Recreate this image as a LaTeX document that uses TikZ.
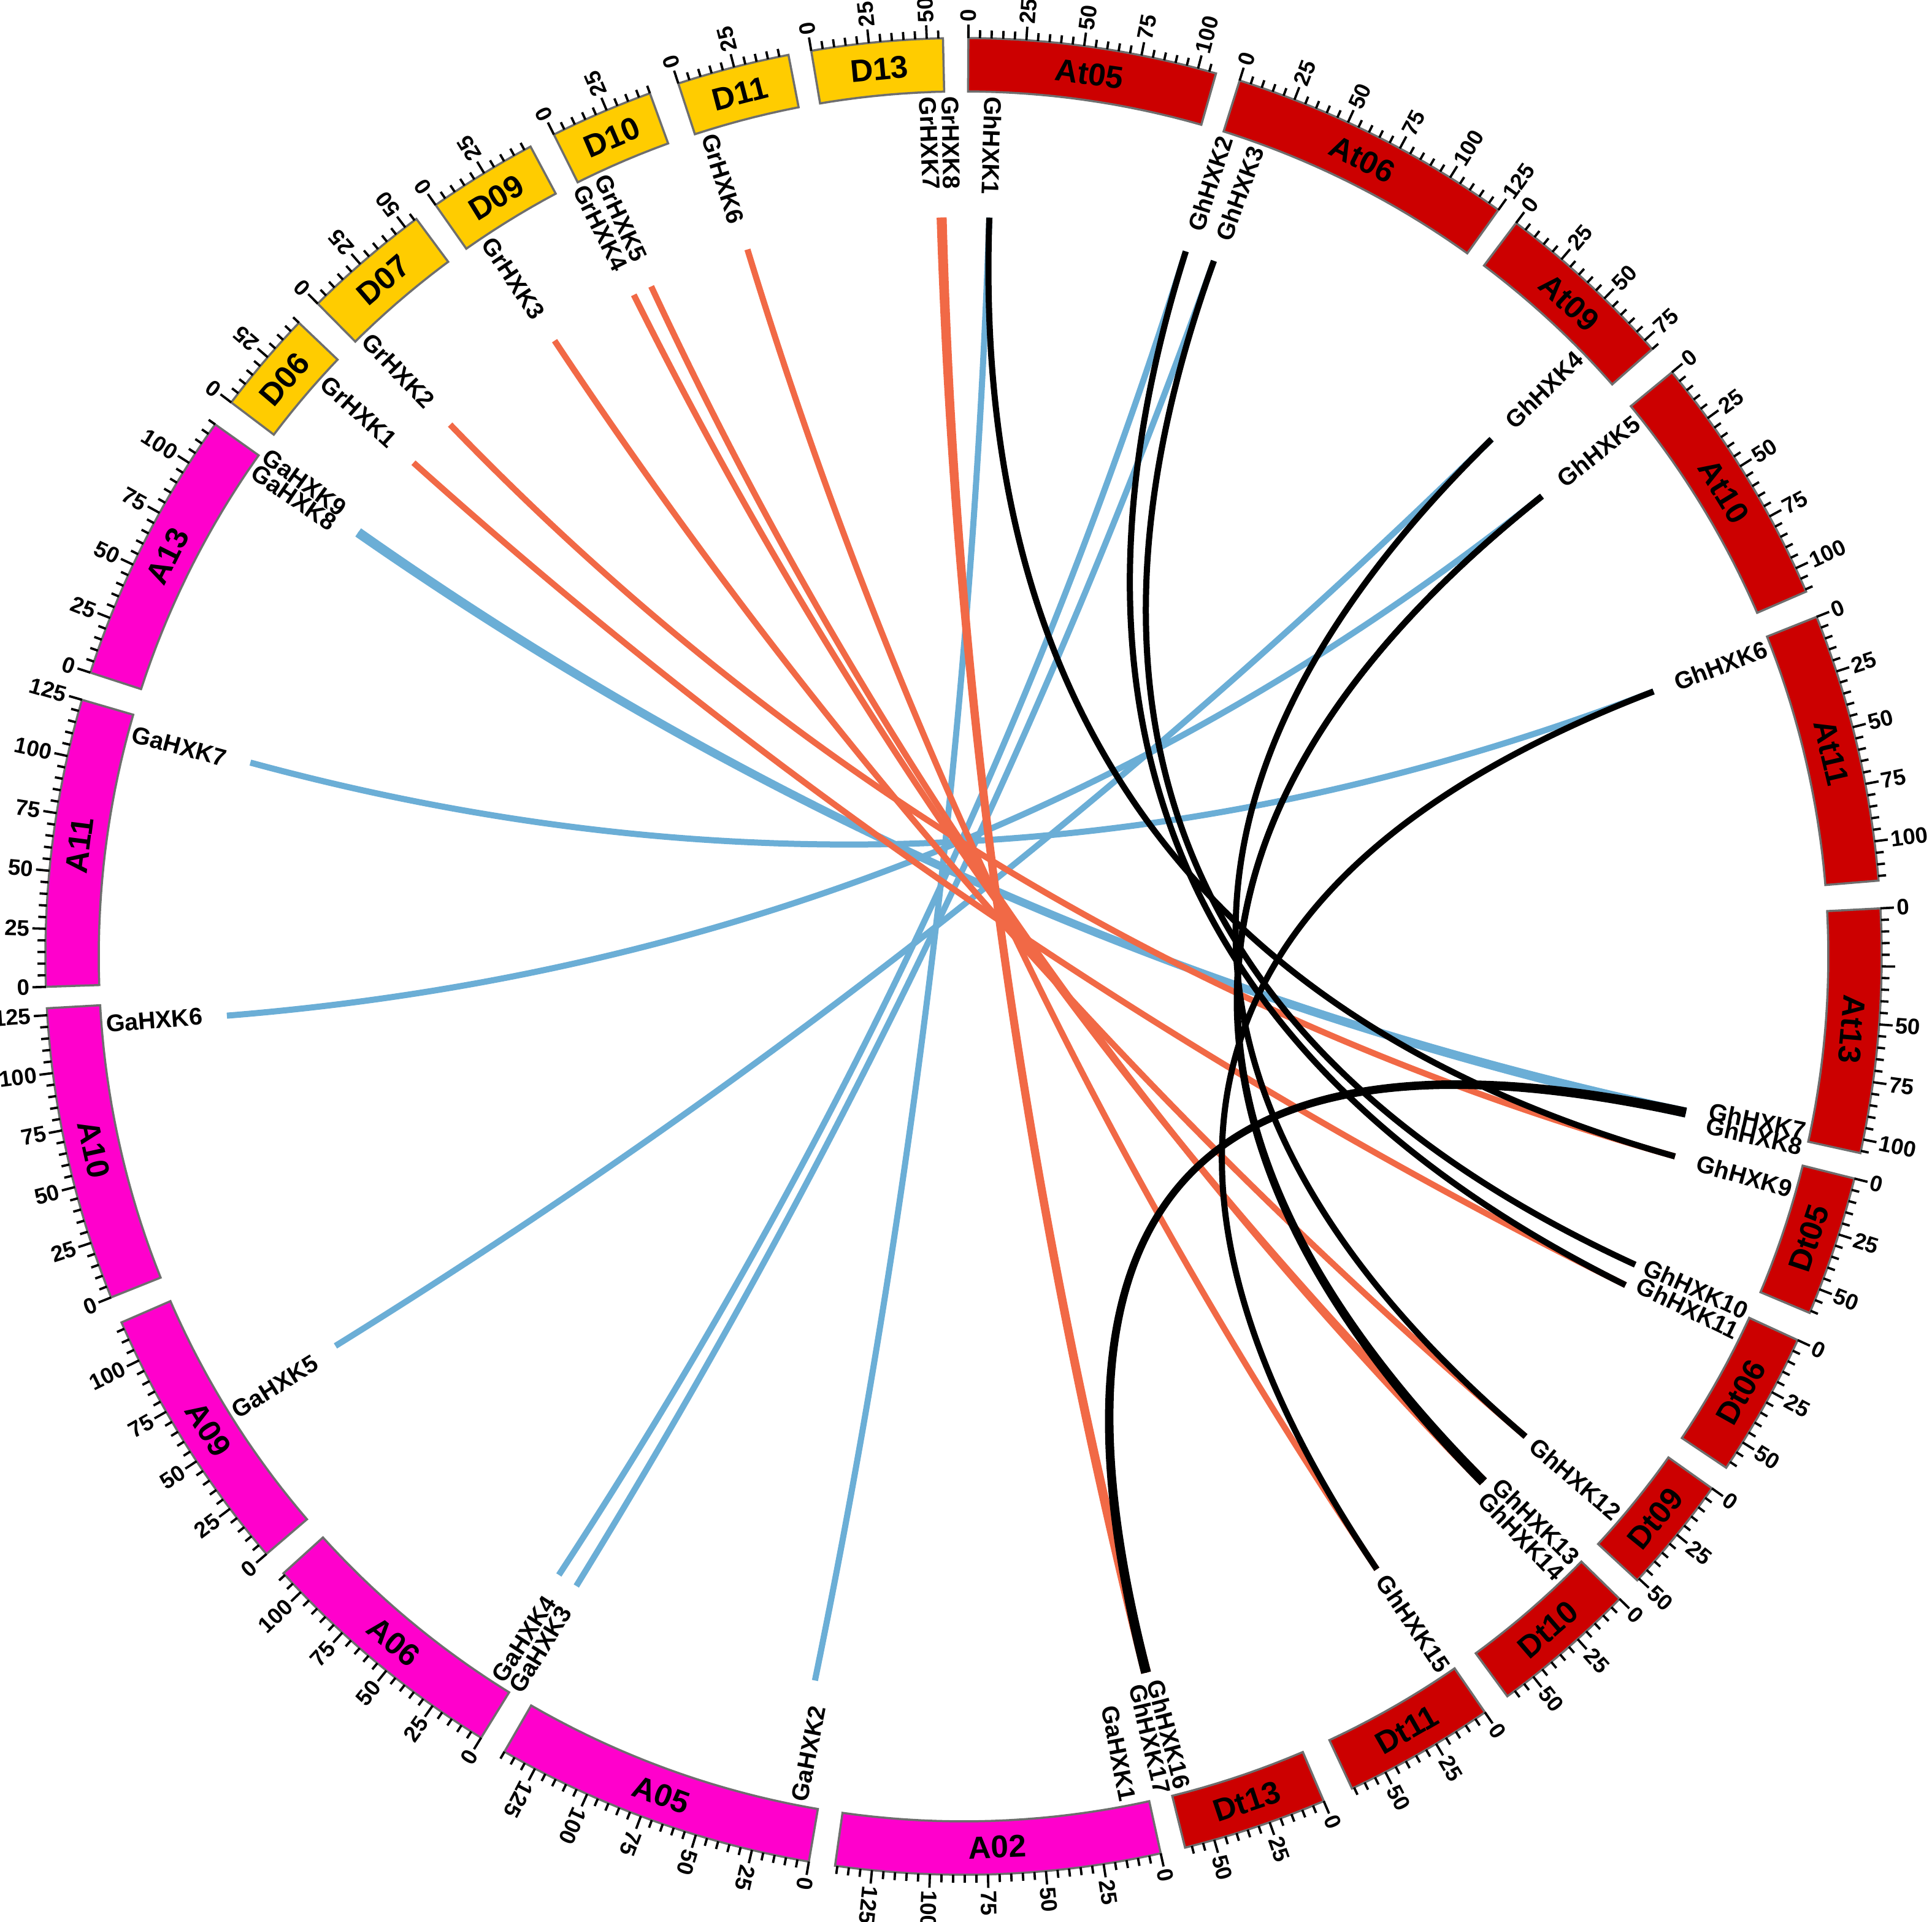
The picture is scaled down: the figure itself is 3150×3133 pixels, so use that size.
\documentclass[tikz,border=0pt]{standalone}
\usepackage{fontspec}
\setmainfont{Liberation Sans}
\usetikzlibrary{calc}
\definecolor{cA}{RGB}{255,0,204}
\definecolor{cR}{RGB}{204,0,0}
\definecolor{cD}{RGB}{255,204,0}
\definecolor{cBlue}{RGB}{107,174,214}
\definecolor{cOr}{RGB}{241,105,70}
\definecolor{cBorder}{RGB}{110,110,110}

\def\kk{0.145}
\def\Rin{1410}
\def\Rout{1497}
\def\Rmid{1453}
\def\Rtmaj{1519}
\def\Rtmin{1510}
\def\Rtl{1523}
\def\Rlink{1205}
\def\Rlab{1403}

\tikzset{
 chrbox/.style={draw=cBorder, line width=0.35mm},
 tickline/.style={line width=0.38mm, black},
 ticklab/.style={inner sep=0pt, font=\fontsize{10.4pt}{11pt}\selectfont\bfseries},
 genelab/.style={inner sep=0pt, font=\fontsize{11.2pt}{12pt}\selectfont\bfseries},
 chrlab/.style={inner sep=0pt, font=\fontsize{14.6pt}{15pt}\selectfont\bfseries},
 lnkblue/.style={draw=cBlue, line width=1.0mm},
 lnkor/.style={draw=cOr, line width=1.0mm},
 lnkblack/.style={draw=black, line width=1.0mm},
}

% #1 name, #2 start angle (clockwise from top), #3 length, #4 fill, #5 tick label flip, #6 name flip, #7 skipped tick label
\newcommand{\chrom}[7]{%
  \pgfmathsetmacro{\ps}{90-(#2)}%
  \pgfmathsetmacro{\pe}{90-(#2)-\kk*(#3)}%
  \pgfmathsetmacro{\pmid}{(\ps+\pe)/2}%
  \filldraw[chrbox, fill=#4] plot[domain=\ps:\pe, samples=40] (\x:\Rin) -- plot[domain=\pe:\ps, samples=40] (\x:\Rout) -- cycle;
  \foreach \m in {0,5,...,#3} {%
    \pgfmathsetmacro{\pa}{\ps-\kk*\m}%
    \pgfmathtruncatemacro{\ismaj}{mod(\m,25)==0 ? 1 : 0}%
    \ifnum\ismaj=1 \draw[tickline] (\pa:\Rout) -- (\pa:\Rtmaj); \else \draw[tickline] (\pa:\Rout) -- (\pa:\Rtmin); \fi
  }
  \foreach \m in {0,25,...,#3} {%
    \ifnum\m=#7\relax\else
      \pgfmathsetmacro{\pa}{\ps-\kk*\m}%
      \ifnum#5=1
        \pgfmathsetmacro{\rr}{\pa+180}%
        \node[ticklab, rotate=\rr, anchor=east] (t#1-\m) at (\pa:\Rtl) {\m};
      \else
        \node[ticklab, rotate=\pa, anchor=west] (t#1-\m) at (\pa:\Rtl) {\m};
      \fi
    \fi
  }
  \ifnum#6=1 \pgfmathsetmacro{\lr}{\pmid+90}\else \pgfmathsetmacro{\lr}{\pmid-90}\fi
  \node[chrlab, rotate=\lr] (c#1) at (\pmid:\Rmid) {#1};
}

% #1 name, #2 link angle, #3 label angle, #4 label flip
\newcommand{\gene}[4]{%
  \pgfmathsetmacro{\pl}{90-(#2)}%
  \pgfmathsetmacro{\pt}{90-(#3)}%
  \coordinate (#1) at (\pl:\Rlink);
  \ifnum#4=1
    \node[genelab, rotate=\pt, anchor=east] (L#1) at (\pt:\Rlab) {#1};
  \else
    \pgfmathsetmacro{\pr}{\pt+180}%
    \node[genelab, rotate=\pr, anchor=west] (L#1) at (\pt:\Rlab) {#1};
  \fi
}

\newcommand{\lnk}[3]{\draw[#1] (#2) .. controls ($(#2)!0.667!(O)$) and ($(#3)!0.667!(O)$) .. (#3);}

\begin{document}
\begin{tikzpicture}[x=0.1mm,y=0.1mm]
\useasboundingbox (-1571,-1574) rectangle (1579,1559);
\coordinate (O) at (0,0);

\chrom{At05}{0.3}{108}{cR}{0}{0}{-1}
\chrom{At06}{17.5}{125}{cR}{0}{0}{-1}
\chrom{At09}{37.0}{80}{cR}{0}{0}{-1}
\chrom{At10}{50.5}{111}{cR}{0}{0}{-1}
\chrom{At11}{68.3}{117}{cR}{0}{0}{-1}
\chrom{At13}{87.0}{106}{cR}{0}{0}{25}
\chrom{Dt05}{104.0}{61}{cR}{0}{1}{-1}
\chrom{Dt06}{114.7}{63}{cR}{0}{1}{-1}
\chrom{Dt09}{125.4}{51}{cR}{0}{1}{-1}
\chrom{Dt10}{134.4}{64}{cR}{0}{1}{-1}
\chrom{Dt11}{145.4}{66}{cR}{0}{1}{-1}
\chrom{Dt13}{156.9}{63}{cR}{0}{1}{-1}
\chrom{A02}{167.6}{141}{cA}{0}{1}{-1}
\chrom{A05}{189.7}{140}{cA}{0}{1}{-1}
\chrom{A06}{211.7}{111}{cA}{1}{1}{-1}
\chrom{A09}{229.4}{118}{cA}{1}{1}{-1}
\chrom{A10}{248.2}{128}{cA}{1}{1}{-1}
\chrom{A11}{268.1}{125}{cA}{1}{0}{-1}
\chrom{A13}{288.0}{120}{cA}{1}{0}{-1}
\chrom{D06}{307.1}{45}{cD}{0}{0}{-1}
\chrom{D07}{315.3}{56}{cD}{0}{0}{-1}
\chrom{D09}{324.9}{48}{cD}{0}{0}{-1}
\chrom{D10}{333.5}{45}{cD}{0}{0}{-1}
\chrom{D11}{341.9}{49}{cD}{0}{0}{-1}
\chrom{D13}{350.45}{57}{cD}{0}{0}{-1}

\gene{GhHXK1}{2.0}{2.0}{0}
\gene{GhHXK2}{17.5}{17.7}{1}
\gene{GhHXK3}{19.8}{19.9}{1}
\gene{GhHXK4}{45.6}{45.7}{1}
\gene{GhHXK5}{51.5}{51.5}{1}
\gene{GhHXK6}{69.0}{69.0}{1}
\gene{GhHXK7}{102.05}{101.7}{1}
\gene{GhHXK8}{102.35}{102.8}{1}
\gene{GhHXK9}{105.7}{105.7}{1}
\gene{GhHXK10}{114.65}{114.4}{1}
\gene{GhHXK11}{116.4}{115.9}{1}
\gene{GhHXK12}{130.5}{130.5}{1}
\gene{GhHXK13}{135.15}{134.6}{1}
\gene{GhHXK14}{135.45}{136.1}{1}
\gene{GhHXK15}{146.0}{146.0}{1}
\gene{GhHXK16}{165.55}{165.2}{1}
\gene{GhHXK17}{165.85}{166.6}{1}
\gene{GaHXK1}{169.0}{169.0}{1}
\gene{GaHXK2}{191.6}{191.0}{0}
\gene{GaHXK3}{211.6}{211.4}{0}
\gene{GaHXK4}{213.2}{212.8}{0}
\gene{GaHXK5}{238.2}{238.0}{0}
\gene{GaHXK6}{265.4}{265.5}{0}
\gene{GaHXK7}{285.2}{285.0}{0}
\gene{GaHXK8}{304.85}{304.4}{0}
\gene{GaHXK9}{305.15}{305.7}{0}
\gene{GrHXK1}{311.9}{312.0}{0}
\gene{GrHXK2}{316.0}{316.0}{0}
\gene{GrHXK3}{326.4}{326.4}{0}
\gene{GrHXK4}{333.5}{333.5}{0}
\gene{GrHXK5}{335.0}{335.1}{0}
\gene{GrHXK6}{343.0}{342.8}{0}
\gene{GrHXK7}{358.15}{357.6}{0}
\gene{GrHXK8}{358.45}{359.1}{0}

% Ga - Gh links
\lnk{lnkblue}{GaHXK2}{GhHXK1}
\lnk{lnkblue}{GaHXK4}{GhHXK2}
\lnk{lnkblue}{GaHXK3}{GhHXK3}
\lnk{lnkblue}{GaHXK5}{GhHXK4}
\lnk{lnkblue}{GaHXK6}{GhHXK5}
\lnk{lnkblue}{GaHXK7}{GhHXK6}
\lnk{lnkblue}{GaHXK8}{GhHXK8}
\lnk{lnkblue}{GaHXK9}{GhHXK7}
% Gr - Gh links
\lnk{lnkor}{GrHXK1}{GhHXK11}
\lnk{lnkor}{GrHXK2}{GhHXK9}
\lnk{lnkor}{GrHXK3}{GhHXK12}
\lnk{lnkor}{GrHXK4}{GhHXK13}
\lnk{lnkor}{GrHXK5}{GhHXK14}
\lnk{lnkor}{GrHXK6}{GhHXK15}
\lnk{lnkor}{GrHXK7}{GhHXK17}
\lnk{lnkor}{GrHXK8}{GhHXK16}
% Gh - Gh links
\lnk{lnkblack}{GhHXK1}{GhHXK9}
\lnk{lnkblack}{GhHXK2}{GhHXK11}
\lnk{lnkblack}{GhHXK3}{GhHXK10}
\lnk{lnkblack}{GhHXK4}{GhHXK12}
\lnk{lnkblack}{GhHXK5}{GhHXK13}
\lnk{lnkblack}{GhHXK5}{GhHXK14}
\lnk{lnkblack}{GhHXK6}{GhHXK15}
\lnk{lnkblack}{GhHXK7}{GhHXK17}
\lnk{lnkblack}{GhHXK8}{GhHXK16}
\end{tikzpicture}
\end{document}
